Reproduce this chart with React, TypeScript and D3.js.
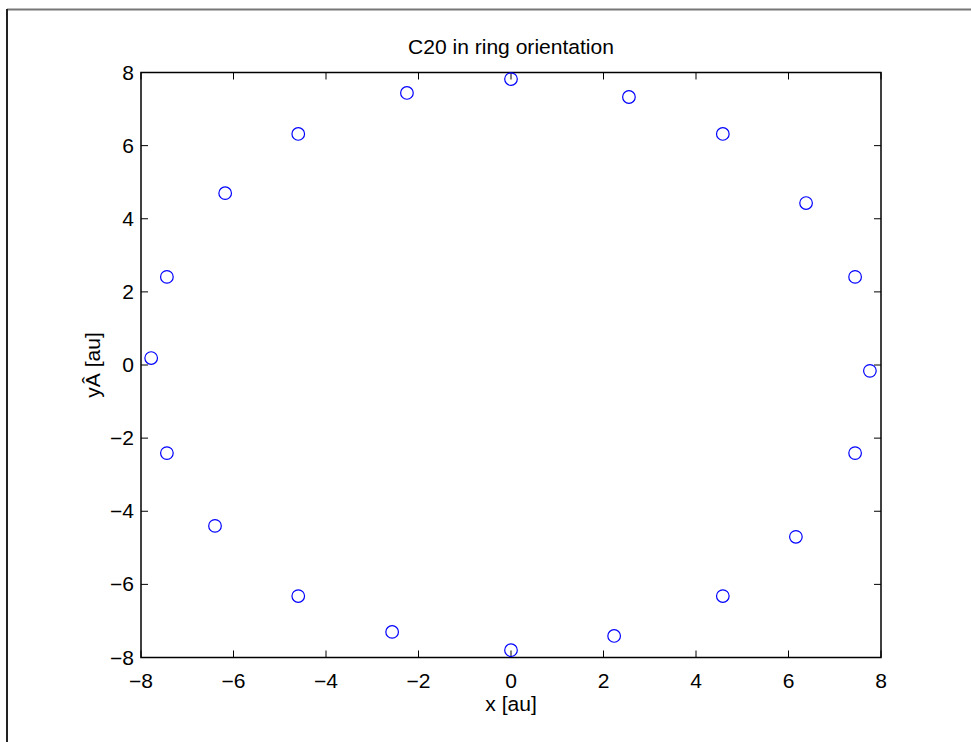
import React from "react";
import * as d3 from "d3";

const xs = [0, 2.55, 4.58, 6.38, 7.44, 7.76, 7.44, 6.16, 4.58, 2.23, 0, -2.57, -4.6, -6.4, -7.44, -7.78, -7.44, -6.18, -4.6, -2.25];
const ys = [7.82, 7.33, 6.32, 4.43, 2.41, -0.16, -2.41, -4.7, -6.32, -7.41, -7.8, -7.3, -6.32, -4.4, -2.41, 0.19, 2.41, 4.7, 6.32, 7.44];
const xTicks = [-8, -6, -4, -2, 0, 2, 4, 6, 8];
const yTicks = [-8, -6, -4, -2, 0, 2, 4, 6, 8];
const title = "C20 in ring orientation";
const xLabel = "x [au]";
const yLabel = "yÂ [au]";

const W = 971, H = 742;
const L = 141, R = 881, T = 72.5, B = 657.5;
const font = "'Liberation Sans', Arial, Helvetica, sans-serif";
const FS = 19.5;
const SX = 1.08;
const fmt = (v: number) => (v < 0 ? "\u2212" + Math.abs(v) : String(v));

function T2({ x, y, anchor, rot, children }: { x: number; y: number; anchor: string; rot?: number; children: React.ReactNode }) {
  return (
    <text
      transform={`translate(${x},${y})${rot ? ` rotate(${rot})` : ""} scale(${SX},1)`}
      textAnchor={anchor}
      fontFamily={font}
      fontSize={FS}
      fill="#000"
    >
      {children}
    </text>
  );
}

export default function App() {
  const x = d3.scaleLinear().domain([-8, 8]).range([L, R]);
  const y = d3.scaleLinear().domain([-8, 8]).range([B, T]);
  const tl = 7;
  return (
    <svg width={W} height={H} style={{ position: "absolute", left: 0, top: 0, background: "#fff" }}>
      <rect x={0} y={0} width={W} height={H} fill="#fff" />
      <line x1={7} y1={9.5} x2={W} y2={9.5} stroke="#777" strokeWidth={2} />
      <line x1={7} y1={9} x2={7} y2={H} stroke="#222" strokeWidth={2} />
      <T2 x={(L + R) / 2} y={54} anchor="middle">{title}</T2>
      {xTicks.map((t) => (
        <g key={"x" + t}>
          <line x1={x(t)} x2={x(t)} y1={B} y2={B - tl} stroke="#000" strokeWidth={1} />
          <line x1={x(t)} x2={x(t)} y1={T} y2={T + tl} stroke="#000" strokeWidth={1} />
          <T2 x={x(t)} y={B + 30} anchor="middle">{fmt(t)}</T2>
        </g>
      ))}
      {yTicks.map((t) => (
        <g key={"y" + t}>
          <line x1={L} x2={L + tl} y1={y(t)} y2={y(t)} stroke="#000" strokeWidth={1} />
          <line x1={R} x2={R - tl} y1={y(t)} y2={y(t)} stroke="#000" strokeWidth={1} />
          <T2 x={L - 7} y={y(t) + 7} anchor="end">{fmt(t)}</T2>
        </g>
      ))}
      <rect x={L} y={T} width={R - L} height={B - T} fill="none" stroke="#000" strokeWidth={1.5} />
      <T2 x={(L + R) / 2} y={711} anchor="middle">{xLabel}</T2>
      <T2 x={100} y={(T + B) / 2} anchor="middle" rot={-90}>{yLabel}</T2>
      {xs.map((v, i) => (
        <circle key={i} cx={x(v)} cy={y(ys[i])} r={6.3} fill="none" stroke="#0000ff" strokeWidth={1.2} />
      ))}
    </svg>
  );
}
